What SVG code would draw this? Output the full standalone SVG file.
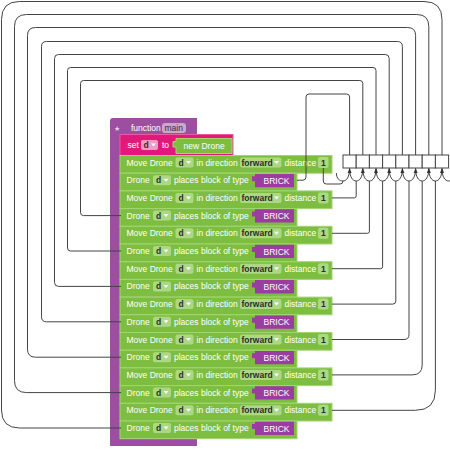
<svg xmlns="http://www.w3.org/2000/svg" xmlns:xlink="http://www.w3.org/1999/xlink" width="450" height="450" viewBox="0 0 450 450">
<style>
.t{font-family:"Liberation Sans",Arial,sans-serif;font-size:8.5px;fill:#fff}
.ft{font-family:"Liberation Sans",Arial,sans-serif;font-size:8.5px;fill:#2d2d2d;font-weight:bold}
.bg{fill:#7dbe40;stroke:#a3d474;stroke-width:1}
.fg{fill:#acd884}
.dd{fill:#fff}
.brick{fill:#9b3da0}
.box{fill:#fff;stroke:#444;stroke-width:1}
.conn path{fill:none;stroke:#444;stroke-width:1}
.tip{fill:#333}
</style>
<defs>
<g id="moveTpl">
<rect class="bg" x="120" y="0" width="212" height="17.7"/>
<text class="t" x="126.5" y="10">Move Drone</text>
<rect class="fg" x="175.5" y="2" width="18" height="10" rx="2"/>
<text class="ft" x="178.5" y="10">d</text>
<polygon class="dd" points="186,5.5 191,5.5 188.5,8.5"/>
<text class="t" x="196.5" y="10">in direction</text>
<rect class="fg" x="240" y="2" width="41.5" height="10" rx="2"/>
<text class="ft" x="241.5" y="10">forward</text>
<polygon class="dd" points="274,5.5 279,5.5 276.5,8.5"/>
<text class="t" x="284.5" y="10">distance</text>
<rect class="fg" x="318" y="1.5" width="10.5" height="11" rx="2"/>
<text class="ft" x="323.25" y="10" text-anchor="middle">1</text>
</g>
</defs>

<g id="function_main">
<path d="M110,121 Q110,118 113,118 H197 V134.5 H120 V438.7 H197 V446 H110 Z" fill="#9c4fa0"/>
<text x="114" y="131" style="font-family:'DejaVu Sans',sans-serif;font-size:7px;fill:#e6cfe8">★</text>
<text class="t" x="131" y="131">function</text>
<rect x="162" y="123" width="24" height="10" rx="3" fill="#cba6cf"/>
<text class="ft" x="164.5" y="131" style="font-weight:normal;fill:#3a2a3c">main</text>
</g>

<g id="set_d">
<rect x="120" y="134.5" width="113" height="21" fill="#e2197b" stroke="#ec5b9d" stroke-width="1"/>
<text class="t" x="127.5" y="148">set</text>
<rect x="141" y="140" width="17" height="10" rx="2" fill="#f29bc4"/>
<text class="ft" x="143.5" y="148">d</text>
<polygon class="dd" points="151,143.5 156,143.5 153.5,146.5"/>
<text class="t" x="162" y="148">to</text>
<path d="M176,138.5 H232 V153.5 H176 V147 H173 V141.5 H176 Z" class="bg"/>
<text class="t" x="183.5" y="148.5">new Drone</text>
</g>

<g id="move0" transform="translate(0,155.5)"><use xlink:href="#moveTpl" href="#moveTpl"/></g>
<g id="drone1" transform="translate(0,173.2)">
<rect class="bg" x="120" y="0" width="177" height="17.7"/>
<text class="t" x="126.5" y="10">Drone</text>
<rect class="fg" x="153" y="2" width="18" height="10" rx="2"/>
<text class="ft" x="156" y="10">d</text>
<polygon class="dd" points="163.5,5.5 168.5,5.5 166,8.5"/>
<text class="t" x="174" y="10">places block of type</text>
<path class="brick" d="M255,0.7 H294 V14 H255 V8 H252 V3 H255 Z"/>
<text class="t" x="263.5" y="10.5">BRICK</text>
</g>
<g id="move2" transform="translate(0,190.9)"><use xlink:href="#moveTpl" href="#moveTpl"/></g>
<g id="drone3" transform="translate(0,208.6)">
<rect class="bg" x="120" y="0" width="177" height="17.7"/>
<text class="t" x="126.5" y="10">Drone</text>
<rect class="fg" x="153" y="2" width="18" height="10" rx="2"/>
<text class="ft" x="156" y="10">d</text>
<polygon class="dd" points="163.5,5.5 168.5,5.5 166,8.5"/>
<text class="t" x="174" y="10">places block of type</text>
<path class="brick" d="M255,0.7 H294 V14 H255 V8 H252 V3 H255 Z"/>
<text class="t" x="263.5" y="10.5">BRICK</text>
</g>
<g id="move4" transform="translate(0,226.3)"><use xlink:href="#moveTpl" href="#moveTpl"/></g>
<g id="drone5" transform="translate(0,244)">
<rect class="bg" x="120" y="0" width="177" height="17.7"/>
<text class="t" x="126.5" y="10">Drone</text>
<rect class="fg" x="153" y="2" width="18" height="10" rx="2"/>
<text class="ft" x="156" y="10">d</text>
<polygon class="dd" points="163.5,5.5 168.5,5.5 166,8.5"/>
<text class="t" x="174" y="10">places block of type</text>
<path class="brick" d="M255,0.7 H294 V14 H255 V8 H252 V3 H255 Z"/>
<text class="t" x="263.5" y="10.5">BRICK</text>
</g>
<g id="move6" transform="translate(0,261.7)"><use xlink:href="#moveTpl" href="#moveTpl"/></g>
<g id="drone7" transform="translate(0,279.4)">
<rect class="bg" x="120" y="0" width="177" height="17.7"/>
<text class="t" x="126.5" y="10">Drone</text>
<rect class="fg" x="153" y="2" width="18" height="10" rx="2"/>
<text class="ft" x="156" y="10">d</text>
<polygon class="dd" points="163.5,5.5 168.5,5.5 166,8.5"/>
<text class="t" x="174" y="10">places block of type</text>
<path class="brick" d="M255,0.7 H294 V14 H255 V8 H252 V3 H255 Z"/>
<text class="t" x="263.5" y="10.5">BRICK</text>
</g>
<g id="move8" transform="translate(0,297.1)"><use xlink:href="#moveTpl" href="#moveTpl"/></g>
<g id="drone9" transform="translate(0,314.8)">
<rect class="bg" x="120" y="0" width="177" height="17.7"/>
<text class="t" x="126.5" y="10">Drone</text>
<rect class="fg" x="153" y="2" width="18" height="10" rx="2"/>
<text class="ft" x="156" y="10">d</text>
<polygon class="dd" points="163.5,5.5 168.5,5.5 166,8.5"/>
<text class="t" x="174" y="10">places block of type</text>
<path class="brick" d="M255,0.7 H294 V14 H255 V8 H252 V3 H255 Z"/>
<text class="t" x="263.5" y="10.5">BRICK</text>
</g>
<g id="move10" transform="translate(0,332.5)"><use xlink:href="#moveTpl" href="#moveTpl"/></g>
<g id="drone11" transform="translate(0,350.2)">
<rect class="bg" x="120" y="0" width="177" height="17.7"/>
<text class="t" x="126.5" y="10">Drone</text>
<rect class="fg" x="153" y="2" width="18" height="10" rx="2"/>
<text class="ft" x="156" y="10">d</text>
<polygon class="dd" points="163.5,5.5 168.5,5.5 166,8.5"/>
<text class="t" x="174" y="10">places block of type</text>
<path class="brick" d="M255,0.7 H294 V14 H255 V8 H252 V3 H255 Z"/>
<text class="t" x="263.5" y="10.5">BRICK</text>
</g>
<g id="move12" transform="translate(0,367.9)"><use xlink:href="#moveTpl" href="#moveTpl"/></g>
<g id="drone13" transform="translate(0,385.6)">
<rect class="bg" x="120" y="0" width="177" height="17.7"/>
<text class="t" x="126.5" y="10">Drone</text>
<rect class="fg" x="153" y="2" width="18" height="10" rx="2"/>
<text class="ft" x="156" y="10">d</text>
<polygon class="dd" points="163.5,5.5 168.5,5.5 166,8.5"/>
<text class="t" x="174" y="10">places block of type</text>
<path class="brick" d="M255,0.7 H294 V14 H255 V8 H252 V3 H255 Z"/>
<text class="t" x="263.5" y="10.5">BRICK</text>
</g>
<g id="move14" transform="translate(0,403.3)"><use xlink:href="#moveTpl" href="#moveTpl"/></g>
<g id="drone15" transform="translate(0,421)">
<rect class="bg" x="120" y="0" width="177" height="17.7"/>
<text class="t" x="126.5" y="10">Drone</text>
<rect class="fg" x="153" y="2" width="18" height="10" rx="2"/>
<text class="ft" x="156" y="10">d</text>
<polygon class="dd" points="163.5,5.5 168.5,5.5 166,8.5"/>
<text class="t" x="174" y="10">places block of type</text>
<path class="brick" d="M255,0.7 H294 V14 H255 V8 H252 V3 H255 Z"/>
<text class="t" x="263.5" y="10.5">BRICK</text>
</g>

<g id="array">
<rect class="box" x="343" y="155" width="13.2" height="13"/>
<rect class="box" x="356.2" y="155" width="13.2" height="13"/>
<rect class="box" x="369.4" y="155" width="13.2" height="13"/>
<rect class="box" x="382.6" y="155" width="13.2" height="13"/>
<rect class="box" x="395.8" y="155" width="13.2" height="13"/>
<rect class="box" x="409" y="155" width="13.2" height="13"/>
<rect class="box" x="422.2" y="155" width="13.2" height="13"/>
<rect class="box" x="435.4" y="155" width="13.2" height="13"/>
</g>

<g id="connectors" class="conn">
<path d="M349.6,155 V97 Q349.6,94 346.6,94 H309 Q306,94 306,97 V177 Q306,180.2 303,180.2 H297"/>
<path d="M362.8,155 V83.5 Q362.8,80.5 359.8,80.5 H83.5 Q80.5,80.5 80.5,83.5 V212.6 Q80.5,215.6 83.5,215.6 H121"/>
<path d="M376,155 V70.5 Q376,67.5 373,67.5 H70.5 Q67.5,67.5 67.5,70.5 V248 Q67.5,251 70.5,251 H121"/>
<path d="M389.2,155 V58.5 Q389.2,54.5 385.2,54.5 H58.5 Q54.5,54.5 54.5,58.5 V282.4 Q54.5,286.4 58.5,286.4 H121"/>
<path d="M402.4,155 V46.5 Q402.4,41.5 397.4,41.5 H46.5 Q41.5,41.5 41.5,46.5 V316.8 Q41.5,321.8 46.5,321.8 H121"/>
<path d="M415.6,155 V35.5 Q415.6,27.5 407.6,27.5 H35.5 Q27.5,27.5 27.5,35.5 V349.2 Q27.5,357.2 35.5,357.2 H121"/>
<path d="M428.8,155 V26.5 Q428.8,14.5 416.8,14.5 H26.5 Q14.5,14.5 14.5,26.5 V380.6 Q14.5,392.6 26.5,392.6 H121"/>
<path d="M442,155 V19.5 Q442,1.5 424,1.5 H19.5 Q1.5,1.5 1.5,19.5 V410 Q1.5,428 19.5,428 H121"/>

<path d="M323.3,168 V181 Q323.3,184 326.3,184 H340 Q343,184 343,181"/>
<path d="M332,197.9 H354.2 Q356.2,197.9 356.2,195.9 V181"/>
<path d="M332,233.3 H367.4 Q369.4,233.3 369.4,231.3 V181"/>
<path d="M332,268.7 H380.6 Q382.6,268.7 382.6,266.7 V181"/>
<path d="M332,304.1 H392.8 Q395.8,304.1 395.8,301.1 V181"/>
<path d="M332,339.5 H404 Q409,339.5 409,334.5 V181"/>
<path d="M332,374.9 H412.2 Q422.2,374.9 422.2,364.9 V181"/>
<path d="M332,410.3 H415.4 Q435.4,410.3 435.4,390.3 V181"/>

<path d="M336.4,173 C336.4,178.5 339.5,181 343,181 C346.5,181 349.6,177 349.6,168.5 C349.6,177 352.7,181 356.2,181 C359.7,181 362.8,177 362.8,168.5 C362.8,177 365.9,181 369.4,181 C372.9,181 376,177 376,168.5 C376,177 379.1,181 382.6,181 C386.1,181 389.2,177 389.2,168.5 C389.2,177 392.3,181 395.8,181 C399.3,181 402.4,177 402.4,168.5 C402.4,177 405.5,181 409,181 C412.5,181 415.6,177 415.6,168.5 C415.6,177 418.7,181 422.2,181 C425.7,181 428.8,177 428.8,168.5 C428.8,177 431.9,181 435.4,181 C438.9,181 442,177 442,168.5 C442,177 445.1,181 448.6,181 C452.1,181 455.2,178.5 455.2,173"/>
<polygon class="tip" points="347.6,173 349.6,168 351.6,173"/>
<polygon class="tip" points="360.8,173 362.8,168 364.8,173"/>
<polygon class="tip" points="374,173 376,168 378,173"/>
<polygon class="tip" points="387.2,173 389.2,168 391.2,173"/>
<polygon class="tip" points="400.4,173 402.4,168 404.4,173"/>
<polygon class="tip" points="413.6,173 415.6,168 417.6,173"/>
<polygon class="tip" points="426.8,173 428.8,168 430.8,173"/>
<polygon class="tip" points="440,173 442,168 444,173"/>
</g>
</svg>
